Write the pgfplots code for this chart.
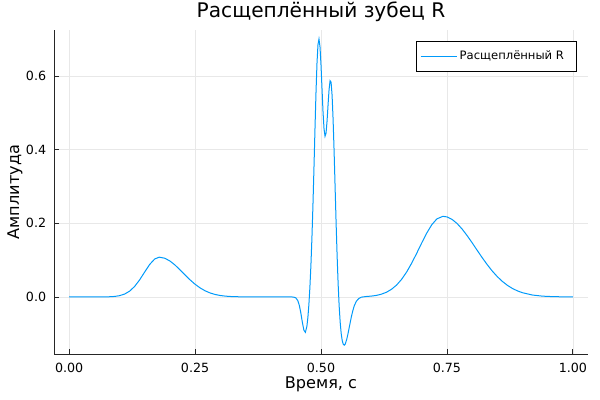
\documentclass[border=0pt]{standalone}
\usepackage{fontspec}
\setmainfont{DejaVu Sans}
\usepackage{pgfplots}
\pgfplotsset{compat=1.18}
\definecolor{series}{RGB}{0,154,250}
\begin{document}
\begin{tikzpicture}[x=1pt,y=1pt]
\path[use as bounding box] (-40.5,-34.5) rectangle (409.5,265.5);
\begin{axis}[
  at={(0,0)}, anchor=south west,
  scale only axis, width=400.5pt, height=243pt,
  xmin=-0.03, xmax=1.03, ymin=-0.155, ymax=0.725,
  axis lines*=left,
  axis line style={-, black!85, line width=0.7pt},
  xtick={0,0.25,0.5,0.75,1}, ytick={0,0.2,0.4,0.6},
  tick align=inside, major tick length=3.4pt,
  tick style={black!85, line width=0.6pt},
  /pgf/number format/assume math mode=true,
  xticklabel style={/pgf/number format/fixed, /pgf/number format/fixed zerofill, /pgf/number format/precision=2, font=\fontsize{9.5}{11}\selectfont, yshift=-3.2pt},
  yticklabel style={/pgf/number format/fixed, /pgf/number format/fixed zerofill, /pgf/number format/precision=1, font=\fontsize{9.5}{11}\selectfont, xshift=-2.4pt},
  grid=major, grid style={black!9, line width=0.4pt},
  every axis title shift=0pt,
  title={Расщеплённый зубец R},
  title style={at={(axis description cs:0.5,1.039)}, anchor=base, font=\fontsize{15.1}{17}\selectfont, inner sep=0pt},
  xlabel={Время, с},
  xlabel style={at={(axis description cs:0.5,-0.105)}, anchor=base, font=\fontsize{12.1}{14}\selectfont, inner sep=0pt},
  ylabel={Амплитуда},
  ylabel style={at={(axis description cs:-0.0655,0.5)}, anchor=base, font=\fontsize{12.1}{14}\selectfont, inner sep=0pt},
  legend style={at={(rel axis cs:0.9794,0.966)}, anchor=north east, draw=black, line width=0.5pt, font=\fontsize{8.7}{10}\selectfont, inner xsep=3pt, inner ysep=5.2pt, fill=white},
  legend cell align=left,
  legend image code/.code={\draw[#1, line width=0.75pt] (0pt,0pt) -- (27pt,0pt);},
]
\addplot[series, line width=0.75pt] coordinates {
(0,0) (0.05,0) (0.08,0.0005) (0.09,0.0013) (0.10,0.0034) (0.11,0.0077) (0.12,0.0156) (0.13,0.0284) (0.14,0.0464) (0.15,0.0677) (0.16,0.0884) (0.17,0.1032) (0.179,0.108) (0.19,0.1051) (0.20,0.0977) (0.21,0.0869) (0.22,0.0738) (0.23,0.0599) (0.24,0.0465) (0.25,0.0345) (0.26,0.0245) (0.27,0.0166) (0.28,0.0107) (0.29,0.0066) (0.30,0.0039) (0.31,0.0022) (0.32,0.0012) (0.34,0.0003) (0.36,0.0001) (0.40,0) (0.44,0) (0.445,-0.0003) (0.450,-0.0025) (0.454,-0.0101) (0.457,-0.0230) (0.460,-0.0438) (0.463,-0.0690) (0.466,-0.0901) (0.469,-0.0963) (0.472,-0.0798) (0.474,-0.0552) (0.476,-0.0197) (0.478,0.0272) (0.480,0.0868) (0.482,0.1607) (0.484,0.2487) (0.486,0.3485) (0.488,0.4534) (0.490,0.5524) (0.492,0.6334) (0.494,0.6852) (0.496,0.7004) (0.498,0.6796) (0.500,0.6302) (0.502,0.5658) (0.504,0.5028) (0.506,0.4565) (0.508,0.4364) (0.510,0.4450) (0.512,0.4773) (0.514,0.5217) (0.516,0.5630) (0.518,0.5872) (0.520,0.5835) (0.522,0.5477) (0.524,0.4824) (0.526,0.3956) (0.528,0.2980) (0.530,0.2003) (0.532,0.1112) (0.534,0.0359) (0.536,-0.0235) (0.538,-0.0676) (0.540,-0.0983) (0.542,-0.1176) (0.544,-0.1280) (0.546,-0.1309) (0.548,-0.1282) (0.551,-0.1158) (0.554,-0.0973) (0.557,-0.0762) (0.560,-0.0557) (0.563,-0.0381) (0.566,-0.0243) (0.570,-0.0120) (0.575,-0.0042) (0.580,-0.0006) (0.590,0.0012) (0.600,0.0023) (0.61,0.0042) (0.62,0.0075) (0.63,0.0128) (0.64,0.0208) (0.65,0.0322) (0.66,0.0478) (0.67,0.0677) (0.68,0.0917) (0.69,0.1187) (0.70,0.1469) (0.71,0.1737) (0.72,0.1963) (0.73,0.2120) (0.742,0.219) (0.75,0.2174) (0.76,0.2108) (0.77,0.1996) (0.78,0.1846) (0.79,0.1667) (0.80,0.1471) (0.81,0.1267) (0.82,0.1066) (0.83,0.0876) (0.84,0.0703) (0.85,0.0551) (0.86,0.0422) (0.87,0.0315) (0.88,0.0230) (0.89,0.0164) (0.90,0.0114) (0.92,0.0051) (0.94,0.0021) (0.96,0.0008) (0.98,0.0003) (1.00,0.0001)
};
\addlegendentry{Расщеплённый R\hspace*{4.5pt}}
\end{axis}
\end{tikzpicture}
\end{document}
